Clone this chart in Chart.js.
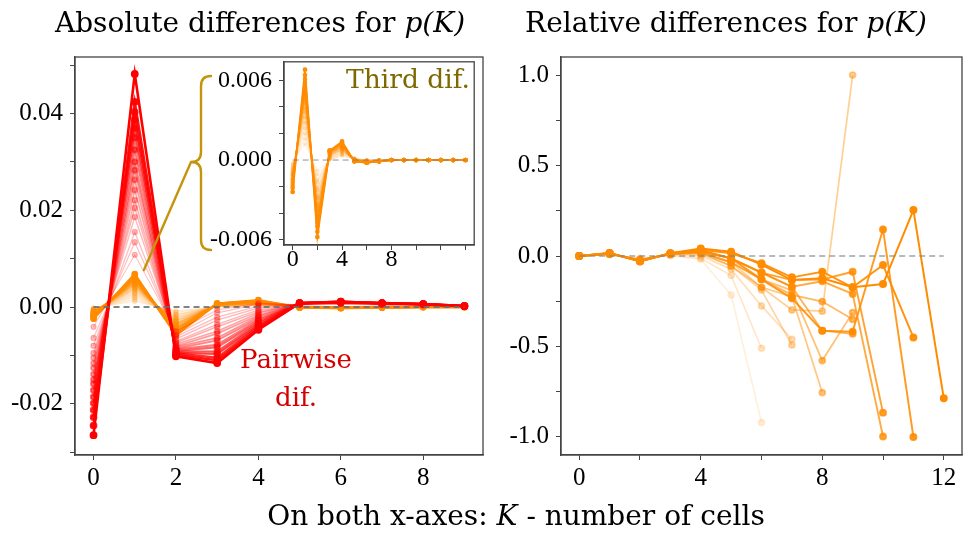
<!DOCTYPE html>
<html>
<head>
<meta charset="utf-8">
<script src="https://cdn.jsdelivr.net/npm/chart.js@4.4.0/dist/chart.umd.min.js"></script>
<style>
body { margin: 0; background: #fff; width: 968px; height: 534px; position: relative; overflow: hidden; font-family: "DejaVu Serif", serif; }
canvas { position: absolute; }
.txt { position: absolute; white-space: nowrap; transform: translate(-50%, -50%); color: #000; }
</style>
</head>
<body>
<canvas id="left" width="490" height="534" style="left:0;top:0"></canvas>
<canvas id="right" width="478" height="534" style="left:490px;top:0"></canvas>
<canvas id="inset" width="360" height="232" style="left:120px;top:56px"></canvas>

<div class="txt" style="left:260px;top:22px;font-size:28px">Absolute differences for <i>p(K)</i></div>
<div class="txt" style="left:726px;top:22px;font-size:28px">Relative differences for <i>p(K)</i></div>
<div class="txt" style="left:516px;top:515px;font-size:28px">On both x-axes: <i>K</i> - number of cells</div>
<div class="txt" style="left:296px;top:359px;font-size:26px;color:#d40000">Pairwise</div>
<div class="txt" style="left:296px;top:397px;font-size:26px;color:#d40000">dif.</div>
<div class="txt" style="left:408px;top:78px;font-size:26.5px;color:#7f6800">Third dif.</div>

<script>
// K values
const kLeft = [0, 1, 2, 3, 4, 5, 6, 7, 8, 9];
const kInset = [0, 1, 2, 3, 4, 5, 6, 7, 8, 9, 10, 11, 12, 13, 14];
const kRight = [0, 1, 2, 3, 4, 5, 6, 7, 8, 9, 10, 11, 12];

// pairwise differences (lightest first, darkest last)
const pairwiseDif = [
  [-0.0041, 0.0108, -0.0050, -0.0006, 0.0008, 0.0004, 0.0006, 0.0004, 0.0003, 0.0001],
  [-0.0064, 0.0134, -0.0057, -0.0012, 0.0006, 0.0005, 0.0007, 0.0005, 0.0004, 0.0001],
  [-0.0080, 0.0155, -0.0061, -0.0021, 0.0002, 0.0005, 0.0007, 0.0005, 0.0004, 0.0001],
  [-0.0095, 0.0186, -0.0066, -0.0027, -0.0002, 0.0006, 0.0008, 0.0006, 0.0005, 0.0002],
  [-0.0105, 0.0205, -0.0071, -0.0036, -0.0006, 0.0006, 0.0008, 0.0006, 0.0005, 0.0002],
  [-0.0116, 0.0221, -0.0074, -0.0041, -0.0010, 0.0006, 0.0009, 0.0006, 0.0005, 0.0002],
  [-0.0126, 0.0242, -0.0077, -0.0050, -0.0013, 0.0007, 0.0009, 0.0007, 0.0005, 0.0002],
  [-0.0139, 0.0263, -0.0081, -0.0055, -0.0017, 0.0007, 0.0009, 0.0007, 0.0006, 0.0002],
  [-0.0150, 0.0283, -0.0083, -0.0064, -0.0020, 0.0007, 0.0010, 0.0007, 0.0006, 0.0002],
  [-0.0159, 0.0300, -0.0086, -0.0069, -0.0024, 0.0007, 0.0010, 0.0007, 0.0006, 0.0002],
  [-0.0172, 0.0325, -0.0088, -0.0078, -0.0027, 0.0007, 0.0010, 0.0008, 0.0006, 0.0002],
  [-0.0186, 0.0350, -0.0091, -0.0083, -0.0031, 0.0008, 0.0010, 0.0008, 0.0006, 0.0002],
  [-0.0199, 0.0370, -0.0092, -0.0092, -0.0034, 0.0008, 0.0010, 0.0008, 0.0006, 0.0002],
  [-0.0213, 0.0387, -0.0095, -0.0097, -0.0038, 0.0008, 0.0010, 0.0008, 0.0006, 0.0002],
  [-0.0228, 0.0403, -0.0096, -0.0105, -0.0041, 0.0008, 0.0011, 0.0008, 0.0006, 0.0002],
  [-0.0245, 0.0424, -0.0099, -0.0110, -0.0045, 0.0008, 0.0011, 0.0008, 0.0006, 0.0002],
  [-0.0265, 0.0482, -0.0102, -0.0116, -0.0047, 0.0008, 0.0011, 0.0008, 0.0006, 0.0002]
];

// third differences (lightest first)
const thirdDif = [
  [-0.0002, 0.0012, -0.0008, 0.0000, 0.0003, 0.0001, 0.0000, 0.0000, 0, 0, 0, 0, 0, 0, 0],
  [-0.0003, 0.0016, -0.0011, 0.0000, 0.0004, 0.0001, 0.0000, 0.0000, 0, 0, 0, 0, 0, 0, 0],
  [-0.0004, 0.0020, -0.0015, 0.0001, 0.0004, 0.0001, 0.0000, 0.0000, 0, 0, 0, 0, 0, 0, 0],
  [-0.0005, 0.0024, -0.0017, 0.0001, 0.0005, 0.0001, 0.0000, 0.0000, 0, 0, 0, 0, 0, 0, 0],
  [-0.0006, 0.0028, -0.0021, 0.0002, 0.0006, 0.0001, 0.0000, 0.0000, 0, 0, 0, 0, 0, 0, 0],
  [-0.0007, 0.0032, -0.0023, 0.0002, 0.0006, 0.0001, -0.0001, 0.0000, 0, 0, 0, 0, 0, 0, 0],
  [-0.0008, 0.0036, -0.0027, 0.0003, 0.0007, 0.0001, -0.0001, 0.0000, 0, 0, 0, 0, 0, 0, 0],
  [-0.0009, 0.0039, -0.0029, 0.0003, 0.0008, 0.0000, -0.0001, 0.0000, 0, 0, 0, 0, 0, 0, 0],
  [-0.0010, 0.0043, -0.0033, 0.0004, 0.0008, 0.0000, -0.0001, -0.0001, 0, 0, 0, 0, 0, 0, 0],
  [-0.0011, 0.0046, -0.0035, 0.0004, 0.0009, 0.0000, -0.0001, -0.0001, 0, 0, 0, 0, 0, 0, 0],
  [-0.0012, 0.0049, -0.0038, 0.0005, 0.0010, 0.0000, -0.0001, -0.0001, 0, 0, 0, 0, 0, 0, 0],
  [-0.0014, 0.0052, -0.0042, 0.0005, 0.0010, 0.0000, -0.0001, -0.0001, 0, 0, 0, 0, 0, 0, 0],
  [-0.0015, 0.0055, -0.0044, 0.0006, 0.0011, 0.0000, -0.0002, -0.0001, 0, 0, 0, 0, 0, 0, 0],
  [-0.0017, 0.0058, -0.0047, 0.0006, 0.0012, -0.0001, -0.0002, -0.0001, 0, 0, 0, 0, 0, 0, 0],
  [-0.0019, 0.0061, -0.0050, 0.0007, 0.0012, -0.0001, -0.0002, -0.0001, 0, 0, 0, 0, 0, 0, 0],
  [-0.0021, 0.0064, -0.0054, 0.0007, 0.0013, -0.0001, -0.0002, -0.0001, 0, 0, 0, 0, 0, 0, 0],
  [-0.0024, 0.0068, -0.0058, 0.0007, 0.0014, -0.0001, -0.0002, -0.0001, 0, 0, 0, 0, 0, 0, 0]
];

// relative differences (lightest first)
const relativeDif = [
  [0, 0.005, -0.010, 0.000, -0.018, -0.215, -0.920],
  [0, 0.008, -0.015, 0.004, -0.012, -0.108, -0.510],
  [0, 0.010, -0.020, 0.008, 0.002, -0.073, -0.276, -0.460],
  [0, 0.010, -0.020, 0.010, 0.010, -0.055, -0.188, -0.492],
  [0, 0.012, -0.022, 0.010, 0.015, -0.035, -0.173, -0.298, -0.305, 1.000],
  [0, 0.012, -0.022, 0.011, 0.018, -0.055, -0.173, -0.225, -0.755],
  [0, 0.013, -0.024, 0.012, 0.020, -0.035, -0.129, -0.190, -0.578, -0.313],
  [0, 0.013, -0.024, 0.012, 0.022, -0.035, -0.129, -0.215, -0.252, -0.350],
  [0, 0.014, -0.025, 0.013, 0.025, -0.013, -0.092, -0.170, -0.413, -0.430],
  [0, 0.014, -0.026, 0.013, 0.028, -0.013, -0.092, -0.170, -0.140, -0.210, -0.998],
  [0, 0.015, -0.027, 0.014, 0.030, -0.013, -0.092, -0.133, -0.130, -0.087, -0.866],
  [0, 0.015, -0.028, 0.014, 0.032, -0.013, -0.129, -0.234, -0.413, -0.418, 0.147, -1.000],
  [0, 0.016, -0.029, 0.015, 0.035, 0.015, -0.040, -0.118, -0.087, -0.173, -0.050, -0.450],
  [0, 0.016, -0.030, 0.015, 0.042, 0.024, -0.048, -0.133, -0.123, -0.173, -0.155, 0.254, -0.786]
];

// ticks
const leftXTicks = [0, 2, 4, 6, 8];
const leftYTicks = [-0.03, -0.02, -0.01, 0, 0.01, 0.02, 0.03, 0.04, 0.05];
const leftYLabels = [-0.02, 0, 0.02, 0.04];
const insetXTicks = [0, 2, 4, 6, 8, 10, 12, 14];
const insetXLabels = [0, 4, 8];
const insetYTicks = [-0.006, -0.004, -0.002, 0, 0.002, 0.004, 0.006];
const insetYLabels = [-0.006, 0, 0.006];
const rightXTicks = [0, 2, 4, 6, 8, 10, 12];
const rightXLabels = [0, 4, 8, 12];
const rightYTicks = [-1, -0.75, -0.5, -0.25, 0, 0.25, 0.5, 0.75, 1];
const rightYLabels = [-1, -0.5, 0, 0.5, 1];

const font = { family: 'Liberation Serif', size: 25 };
const insetFont = { family: 'Liberation Serif', size: 24 };

function pts(xs, row) {
  return row.map((v, j) => ({ x: xs[j], y: v }));
}

function has(list, v) {
  return list.some(l => Math.abs(l - v) < 1e-9);
}

function axis(min, max, ticks, labels, digits, isX, size, f, pad) {
  return {
    type: 'linear', min: min, max: max,
    afterBuildTicks: s => { s.ticks = ticks.map(v => ({ value: v })); },
    afterFit: s => {
      if (isX) s.height = size; else s.width = size;
      s.paddingLeft = 0; s.paddingRight = 0; s.paddingTop = 0; s.paddingBottom = 0;
    },
    ticks: {
      autoSkip: false, maxRotation: 0, padding: pad,
      color: '#000', font: f || font,
      callback: v => has(labels, v) ? Number(v).toFixed(digits) : ''
    },
    grid: { drawOnChartArea: false, drawTicks: true, tickLength: 5, color: '#444' },
    border: { display: true, color: '#444', width: 1.3 }
  };
}

const frame = {
  id: 'frame',
  beforeDraw(c, args, opts) {
    if (opts.fill) {
      const a = c.chartArea;
      c.ctx.save();
      c.ctx.fillStyle = '#fff';
      c.ctx.fillRect(a.left, a.top, a.right - a.left, a.bottom - a.top);
      c.ctx.restore();
    }
  },
  afterDraw(c) {
    const a = c.chartArea, x = c.ctx;
    x.save();
    x.strokeStyle = '#444';
    x.lineWidth = 1.3;
    x.strokeRect(a.left, a.top, a.right - a.left, a.bottom - a.top);
    x.restore();
  }
};

// curly brace pointing from the inset's y range to the orange peak
const brace = {
  id: 'brace',
  afterDraw(c) {
    const x = c.ctx;
    x.save();
    x.strokeStyle = '#c4950c';
    x.lineWidth = 2.4;
    x.lineCap = 'round';
    x.beginPath();
    x.moveTo(211, 76);
    x.quadraticCurveTo(201, 76, 201, 86);
    x.lineTo(201, 152);
    x.quadraticCurveTo(201, 162, 191, 162);
    x.quadraticCurveTo(201, 162, 201, 172);
    x.lineTo(201, 240);
    x.quadraticCurveTo(201, 250, 211, 250);
    x.moveTo(191, 162);
    x.lineTo(c.scales.x.getPixelForValue(1.22), c.scales.y.getPixelForValue(0.0076));
    x.stroke();
    x.restore();
  }
};

function baseOpts(scales, padding, fill) {
  return {
    responsive: false, animation: false,
    layout: { padding: padding },
    plugins: { legend: { display: false }, tooltip: { enabled: false }, frame: { fill: !!fill } },
    elements: { line: { tension: 0 }, point: { borderWidth: 0 } },
    scales: scales
  };
}

function fam(rows, xs, rgb, a0, w0, w1, r, orderBase, pow) {
  const n = rows.length;
  return rows.map((row, i) => {
    const t = i / (n - 1);
    const a = a0 + (1 - a0) * Math.pow(t, pow);
    const col = 'rgba(' + rgb + ',' + a.toFixed(3) + ')';
    return {
      data: pts(xs, row),
      borderColor: col, backgroundColor: col, pointBackgroundColor: col,
      borderWidth: w0 + (w1 - w0) * t, pointRadius: r,
      order: orderBase + (n - i)
    };
  });
}

function zeroLine(xs, col, w) {
  return {
    data: xs.map(k => ({ x: k, y: 0 })),
    borderColor: col, borderWidth: w, borderDash: [6, 4], pointRadius: 0, order: 0
  };
}

// left panel
new Chart(document.getElementById('left'), {
  type: 'line',
  data: {
    datasets: [zeroLine(kLeft, 'rgba(105,110,110,0.85)', 2)]
      .concat(fam(pairwiseDif, kLeft, '255,0,0', 0.25, 1.1, 2.6, 2.6, 0, 2))
      .concat(fam(thirdDif.map(r => r.slice(0, 10)), kLeft, '255,140,0', 0.2, 1.1, 2.4, 2.2, 100, 2))
  },
  options: baseOpts({
    x: axis(-0.45, 9.45, leftXTicks, leftXTicks, 0, true, 35, font, 3),
    y: axis(-0.0306, 0.0517, leftYTicks, leftYLabels, 2, false, 75, font, 7)
  }, { top: 57, right: 7, bottom: 44, left: 0 }),
  plugins: [frame, brace]
});

// inset: third differences
new Chart(document.getElementById('inset'), {
  type: 'line',
  data: {
    datasets: [zeroLine(kInset, 'rgba(120,120,120,0.8)', 1)]
      .concat(fam(thirdDif, kInset, '255,140,0', 0.15, 0.9, 1.8, 1.5, 0, 2))
  },
  options: baseOpts({
    x: axis(-0.7, 14.7, insetXTicks, insetXLabels, 0, true, 28, insetFont, -5),
    y: axis(-0.0064, 0.0074, insetYTicks, insetYLabels, 3, false, 164, insetFont, 7)
  }, { top: 2, right: 3, bottom: 15, left: 0 }, true),
  plugins: [frame]
});

// right panel
new Chart(document.getElementById('right'), {
  type: 'line',
  data: {
    datasets: [zeroLine(kRight, 'rgba(120,135,136,0.75)', 1.6)]
      .concat(fam(relativeDif, kRight, '255,140,0', 0.15, 1.6, 2.0, 3, 0, 1))
  },
  options: baseOpts({
    x: axis(-0.6, 12.6, rightXTicks, rightXLabels, 0, true, 35, font, 3),
    y: axis(-1.1, 1.1, rightYTicks, rightYLabels, 1, false, 71, font, 7)
  }, { top: 57, right: 1, bottom: 44, left: 0 }),
  plugins: [frame]
});
</script>
</body>
</html>
